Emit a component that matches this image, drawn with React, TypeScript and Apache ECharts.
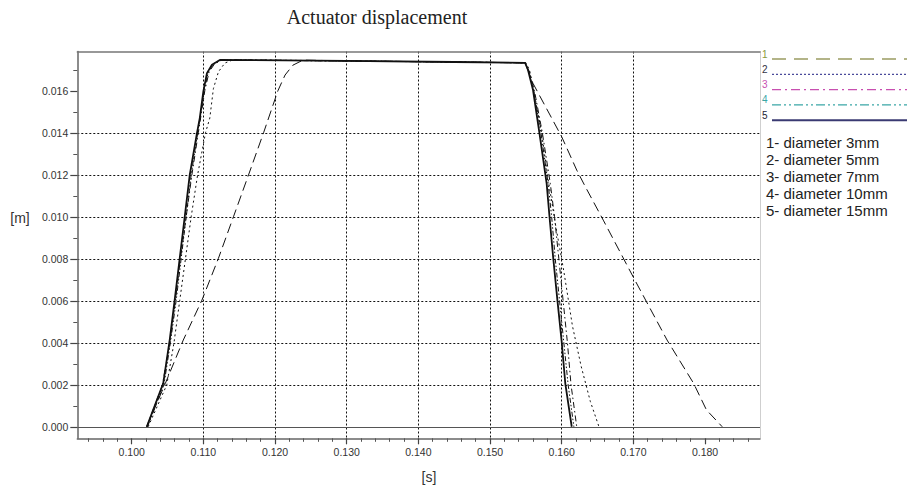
import React, { useEffect, useRef } from "react";
import * as echarts from "echarts";

// ---- data (time [s], displacement [m]) ----
const seriesNames = ["1- diameter 3mm", "2- diameter 5mm", "3- diameter 7mm", "4- diameter 10mm", "5- diameter 15mm"];
const legendNumbers = ["1", "2", "3", "4", "5"];

const d3mm: number[][] = [
  [0.1021, 0], [0.1047, 0.00207], [0.1072, 0.00413], [0.1098, 0.00603], [0.1121, 0.00802],
  [0.1142, 0.0100], [0.1163, 0.01199], [0.1184, 0.0140], [0.1204, 0.0160], [0.1214, 0.01675],
  [0.1225, 0.01722], [0.1239, 0.01746], [0.1300, 0.01742], [0.1450, 0.01737], [0.1549, 0.01733],
  [0.1560, 0.01635], [0.1600, 0.01381], [0.1621, 0.01222], [0.1633, 0.01143], [0.1658, 0.00984],
  [0.1702, 0.00699], [0.1747, 0.00413], [0.1784, 0.00207], [0.1802, 0.0008], [0.1824, 0],
];
const d5mm: number[][] = [
  [0.1023, 0], [0.1049, 0.002], [0.1059, 0.004], [0.1067, 0.006], [0.1075, 0.008],
  [0.1083, 0.010], [0.1092, 0.012], [0.1103, 0.014], [0.1109, 0.0147], [0.1114, 0.0161],
  [0.1121, 0.0169], [0.1130, 0.01732], [0.1142, 0.01748], [0.1300, 0.01742], [0.1450, 0.01737],
  [0.1550, 0.01733], [0.1555, 0.0170], [0.1561, 0.0160], [0.1572, 0.0140], [0.1581, 0.0118],
  [0.1592, 0.0095], [0.1603, 0.0074], [0.1615, 0.0048], [0.1627, 0.0029], [0.1640, 0.0012], [0.1652, 0],
];
const d7mm: number[][] = [
  [0.1021, 0], [0.1043, 0.002], [0.1053, 0.004], [0.1061, 0.006], [0.1068, 0.008],
  [0.1076, 0.010], [0.1084, 0.012], [0.1093, 0.014], [0.1102, 0.016], [0.1108, 0.0169],
  [0.1116, 0.0173], [0.1127, 0.01747], [0.1300, 0.01742], [0.1450, 0.01737], [0.1549, 0.01733],
  [0.1555, 0.0169], [0.1562, 0.0160], [0.1573, 0.0140], [0.1584, 0.0116], [0.1590, 0.0100],
  [0.1596, 0.0080], [0.1602, 0.0060], [0.1608, 0.0040], [0.1613, 0.0020], [0.1621, 0],
];
const d10mm: number[][] = [
  [0.1022, 0], [0.1045, 0.002], [0.1054, 0.004], [0.1062, 0.006], [0.1069, 0.008],
  [0.1076, 0.010], [0.1083, 0.012], [0.1092, 0.014], [0.1101, 0.016], [0.1107, 0.0169],
  [0.1114, 0.01728], [0.1125, 0.01747], [0.1300, 0.01742], [0.1450, 0.01737], [0.1549, 0.01733],
  [0.1554, 0.0169], [0.1561, 0.0160], [0.1571, 0.0140], [0.1581, 0.0116], [0.1586, 0.0100],
  [0.1591, 0.0080], [0.1597, 0.0060], [0.1603, 0.0040], [0.1609, 0.0020], [0.1617, 0],
];
const d15mm: number[][] = [
  [0.1021, 0], [0.1044, 0.00207], [0.1053, 0.00413], [0.1060, 0.00604], [0.1067, 0.00802],
  [0.1074, 0.0100], [0.1081, 0.01199], [0.1091, 0.01397], [0.1095, 0.0147], [0.1100, 0.01597],
  [0.1105, 0.01684], [0.1112, 0.01724], [0.1123, 0.01747], [0.1300, 0.01742], [0.1450, 0.01737],
  [0.1549, 0.01733], [0.1553, 0.01699], [0.1560, 0.01603], [0.1569, 0.01397], [0.1579, 0.01159],
  [0.1583, 0.0100], [0.1588, 0.0081], [0.1594, 0.00603], [0.1600, 0.00405], [0.1605, 0.00207], [0.1614, 0],
];

const xMajorTicks = [0.1, 0.11, 0.12, 0.13, 0.14, 0.15, 0.16, 0.17, 0.18];
const xMinorTicks = [0.094, 0.096, 0.098, 0.102, 0.104, 0.106, 0.108, 0.112, 0.114, 0.116, 0.118,
  0.122, 0.124, 0.126, 0.128, 0.132, 0.134, 0.136, 0.138, 0.142, 0.144, 0.146, 0.148,
  0.152, 0.154, 0.156, 0.158, 0.162, 0.164, 0.166, 0.168, 0.172, 0.174, 0.176, 0.178,
  0.182, 0.184, 0.186];
const yMajorTicks = [0, 0.002, 0.004, 0.006, 0.008, 0.01, 0.012, 0.014, 0.016];
const yMinorTicks = [0.001, 0.003, 0.005, 0.007, 0.009, 0.011, 0.013, 0.015, 0.017];

const X_MIN = 0.09241;
const X_MAX = 0.18767;
const Y_MIN = -0.00055;
const Y_MAX = 0.01787;

const seriesData = [d3mm, d5mm, d7mm, d10mm, d15mm];
const plotDash: any[] = [[10, 5], [2, 3], [6, 3, 1.5, 3], [5, 2, 1.5, 2, 1.5, 2], "solid"];
const plotWidth = [1, 1, 1, 1, 1.8];
const legendColors = ["#9a9c62", "#4a4a9a", "#c84fb0", "#3aa6a6", "#3a3a72"];
const legendNumColors = ["#8a9a3a", "#333344", "#c84fb0", "#3aa6a6", "#222233"];
const legendDash: any[] = [[14, 8], [2, 2], [9, 4, 2, 4], [9, 3, 2, 3, 2, 3], null];

export default function App() {
  const ref = useRef<HTMLDivElement>(null);
  useEffect(() => {
    if (!ref.current) return;
    const chart = echarts.init(ref.current, null, { renderer: "svg" });
    const gLeft = 77.3, gRight = 150, gTop = 51.5, gBottom = 52.7;
    const axisGray = "#666";

    const series: any[] = seriesData.map((d, i) => ({
      name: seriesNames[i],
      type: "line",
      xAxisIndex: 0,
      yAxisIndex: 0,
      data: d,
      showSymbol: false,
      symbol: "none",
      smooth: false,
      lineStyle: { color: "#111", width: plotWidth[i], type: plotDash[i] },
      z: 5 + i,
      ...(i === 0
        ? {
            markLine: {
              silent: true,
              symbol: "none",
              label: { show: false },
              lineStyle: { color: "#555", type: "solid", width: 1.2 },
              data: [{ yAxis: 0 }],
            },
          }
        : {}),
    }));

    const graphic: any[] = [
      {
        type: "text",
        x: 377,
        y: 17,
        style: { text: "Actuator displacement", font: '20px "Liberation Serif", serif', fill: "#222", align: "center", verticalAlign: "middle" },
      },
      {
        type: "text",
        x: 20,
        y: 218,
        style: { text: "[m]", font: '14px "Liberation Sans", Arial, sans-serif', fill: "#333", align: "center", verticalAlign: "middle" },
      },
      {
        type: "text",
        x: 429,
        y: 477,
        style: { text: "[s]", font: '14px "Liberation Sans", Arial, sans-serif', fill: "#333", align: "center", verticalAlign: "middle" },
      },
    ];
    legendNumbers.forEach((n, i) => {
      const ly = 59 + i * 15.3;
      graphic.push({
        type: "text",
        x: 762,
        y: ly - 5,
        style: { text: n, font: '10px "Liberation Sans", Arial, sans-serif', fill: legendNumColors[i], align: "left", verticalAlign: "middle" },
      });
      graphic.push({
        type: "line",
        shape: { x1: 772, y1: ly, x2: 907, y2: ly },
        style: { stroke: legendColors[i], lineWidth: i === 4 ? 2 : 1.3, lineDash: legendDash[i] || undefined },
      });
    });
    seriesNames.forEach((n, i) => {
      graphic.push({
        type: "text",
        x: 766,
        y: 142 + i * 17.2,
        style: { text: n, font: '15px "Liberation Sans", Arial, sans-serif', fill: "#222", align: "left", verticalAlign: "middle" },
      });
    });

    const option: any = {
      animation: false,
      backgroundColor: "#fff",
      grid: { left: gLeft, right: gRight, top: gTop, bottom: gBottom, containLabel: false, outerBoundsMode: "none", show: false },
      xAxis: [
        {
          type: "value",
          position: "bottom",
          min: X_MIN,
          max: X_MAX,
          splitNumber: 9,
          axisLine: { show: true, onZero: false, lineStyle: { color: axisGray, width: 1.5 } },
          axisTick: { show: true, length: 6, customValues: xMajorTicks, lineStyle: { color: "#444", width: 1.2 } },
          axisLabel: {
            show: true,
            customValues: xMajorTicks,
            margin: 8,
            color: "#333",
            fontSize: 10.5,
            fontFamily: '"Liberation Sans", Arial, sans-serif',
            formatter: (v: number) => v.toFixed(3),
          },
          splitLine: { show: true, showMinLine: false, showMaxLine: false, lineStyle: { color: "#111", type: [2, 2], width: 1 } },
          minorTick: { show: false },
        },
        {
          type: "value",
          position: "bottom",
          min: X_MIN,
          max: X_MAX,
          splitNumber: 9,
          axisLine: { show: false, onZero: false },
          axisTick: { show: true, length: 3.5, customValues: xMinorTicks, lineStyle: { color: "#555", width: 1 } },
          axisLabel: { show: false },
          splitLine: { show: false },
        },
        {
          type: "value",
          position: "top",
          min: X_MIN,
          max: X_MAX,
          axisLine: { show: true, onZero: false, lineStyle: { color: "#777", width: 1.5 } },
          axisTick: { show: false },
          axisLabel: { show: false },
          splitLine: { show: false },
        },
      ],
      yAxis: [
        {
          type: "value",
          position: "left",
          min: Y_MIN,
          max: Y_MAX,
          splitNumber: 9,
          axisLine: { show: true, onZero: false, lineStyle: { color: axisGray, width: 1.5 } },
          axisTick: { show: true, length: 7, customValues: yMajorTicks, lineStyle: { color: "#444", width: 1.2 } },
          axisLabel: {
            show: true,
            customValues: yMajorTicks,
            margin: 9,
            color: "#333",
            fontSize: 10.5,
            fontFamily: '"Liberation Sans", Arial, sans-serif',
            formatter: (v: number) => v.toFixed(3),
          },
          splitLine: { show: true, showMinLine: false, showMaxLine: false, lineStyle: { color: "#111", type: [2, 2], width: 1 } },
        },
        {
          type: "value",
          position: "left",
          min: Y_MIN,
          max: Y_MAX,
          axisLine: { show: false, onZero: false },
          axisTick: { show: true, length: 4, customValues: yMinorTicks, lineStyle: { color: "#555", width: 1 } },
          axisLabel: { show: false },
          splitLine: { show: false },
        },
        {
          type: "value",
          position: "right",
          min: Y_MIN,
          max: Y_MAX,
          axisLine: { show: true, onZero: false, lineStyle: { color: "#cfcfcf", width: 1 } },
          axisTick: { show: false },
          axisLabel: { show: false },
          splitLine: { show: false },
        },
      ],
      series,
      graphic,
    };
    chart.setOption(option);
    return () => chart.dispose();
  }, []);
  return <div ref={ref} style={{ position: "absolute", left: 0, top: 0, width: 910, height: 491, background: "#fff" }} />;
}
